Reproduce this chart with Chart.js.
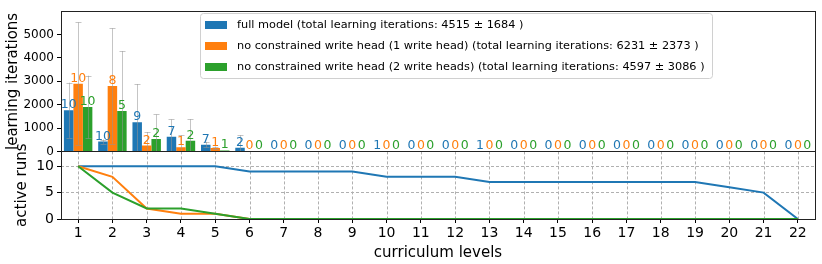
<!DOCTYPE html>
<html>
<head>
<meta charset="utf-8">
<script src="https://cdn.jsdelivr.net/npm/chart.js@4.4.0/dist/chart.umd.min.js"></script>
<style>
  html, body { margin: 0; padding: 0; background: #fff; }
</style>
</head>
<body>
<canvas id="chart" width="822" height="264"></canvas>
<script>
// curriculum levels (shared x axis)
const levels = ['1','2','3','4','5','6','7','8','9','10','11','12','13','14','15','16','17','18','19','20','21','22'];

// legend names
const seriesNames = [
    'full model (total learning iterations: 4515 \u00b1 1684 )',
    'no constrained write head (1 write head) (total learning iterations: 6231 \u00b1 2373 )',
    'no constrained write head (2 write heads) (total learning iterations: 4597 \u00b1 3086 )'
];

// mean learning iterations per level
const fullMean   = [1760, 420, 1250, 630, 290, 160, 0, 0, 0, 10, 0, 0, 10, 0, 0, 0, 0, 0, 0, 0, 0, 0];
const oneHeadMean = [2900, 2800, 250, 180, 150, 0, 0, 0, 0, 0, 0, 0, 0, 0, 0, 0, 0, 0, 0, 0, 0, 0];
const twoHeadMean = [1900, 1730, 535, 460, 40, 0, 0, 0, 0, 0, 0, 0, 0, 0, 0, 0, 0, 0, 0, 0, 0, 0];

// std of learning iterations per level
const fullStd    = [1180, 90, 1630, 740, 120, 530, 0, 0, 0, 0, 0, 0, 0, 0, 0, 0, 0, 0, 0, 0, 0, 0];
const oneHeadStd = [2620, 2470, 580, 510, 60, 0, 0, 0, 0, 0, 0, 0, 0, 0, 0, 0, 0, 0, 0, 0, 0, 0];
const twoHeadStd = [1340, 2560, 1045, 920, 0, 0, 0, 0, 0, 0, 0, 0, 0, 0, 0, 0, 0, 0, 0, 0, 0, 0];

// number of runs written above each bar
const fullCount    = [10, 10, 9, 7, 7, 2, 0, 0, 0, 1, 0, 0, 1, 0, 0, 0, 0, 0, 0, 0, 0, 0];
const oneHeadCount = [10, 8, 2, 1, 1, 0, 0, 0, 0, 0, 0, 0, 0, 0, 0, 0, 0, 0, 0, 0, 0, 0];
const twoHeadCount = [10, 5, 2, 2, 1, 0, 0, 0, 0, 0, 0, 0, 0, 0, 0, 0, 0, 0, 0, 0, 0, 0];

// active runs per level (bottom panel)
const fullActive    = [10, 10, 10, 10, 10, 9, 9, 9, 9, 8, 8, 8, 7, 7, 7, 7, 7, 7, 7, 6, 5, 0];
const oneHeadActive = [10, 8, 2, 1, 1, 0, 0, 0, 0, 0, 0, 0, 0, 0, 0, 0, 0, 0, 0, 0, 0, 0];
const twoHeadActive = [10, 5, 2, 2, 1, 0, 0, 0, 0, 0, 0, 0, 0, 0, 0, 0, 0, 0, 0, 0, 0, 0];

// tick values
const iterTicks = [0, 1000, 2000, 3000, 4000, 5000];
const runTicks = [0, 5, 10];

const colors = ['#1f77b4', '#ff7f0e', '#2ca02c'];
const stds = [fullStd, oneHeadStd, twoHeadStd];
const counts = [fullCount, oneHeadCount, twoHeadCount];
const FONT = 'DejaVu Sans';

// error bars, run counts, grid of the lower panel, frames and legend
const extras = {
    id: 'extras',
    beforeDatasetsDraw(chart) {
        const ctx = chart.ctx;
        const x = chart.scales.x;
        const yr = chart.scales.yRuns;
        ctx.save();
        ctx.strokeStyle = '#b0b0b0';
        ctx.lineWidth = 1;
        ctx.setLineDash([3, 2]);
        levels.forEach((l, i) => {
            const px = Math.round(x.getPixelForValue(i)) + 0.5;
            ctx.beginPath();
            ctx.moveTo(px, yr.top);
            ctx.lineTo(px, yr.bottom);
            ctx.stroke();
        });
        ctx.restore();
    },
    afterDatasetsDraw(chart) {
        const ctx = chart.ctx;
        const yi = chart.scales.yIter;
        const area = chart.chartArea;
        ctx.save();
        ctx.beginPath();
        ctx.rect(area.left, yi.top, area.right - area.left, yi.bottom - yi.top);
        ctx.clip();
        // error bars
        ctx.strokeStyle = 'rgba(150,150,150,0.55)';
        ctx.lineWidth = 1;
        for (let d = 0; d < 3; d++) {
            const meta = chart.getDatasetMeta(d);
            meta.data.forEach((bar, i) => {
                const s = stds[d][i];
                if (!s) return;
                const v = chart.data.datasets[d].data[i];
                const hi = yi.getPixelForValue(v + s);
                const lo = yi.getPixelForValue(v - s);
                const px = Math.round(bar.x) + 0.5;
                ctx.beginPath();
                ctx.moveTo(px, hi);
                ctx.lineTo(px, lo);
                ctx.moveTo(px - 3, Math.round(hi) + 0.5);
                ctx.lineTo(px + 3, Math.round(hi) + 0.5);
                ctx.moveTo(px - 3, Math.round(lo) + 0.5);
                ctx.lineTo(px + 3, Math.round(lo) + 0.5);
                ctx.stroke();
            });
        }
        ctx.restore();
        // run counts
        ctx.save();
        ctx.font = '12.5px "' + FONT + '"';
        ctx.textAlign = 'center';
        ctx.textBaseline = 'alphabetic';
        for (let d = 0; d < 3; d++) {
            const meta = chart.getDatasetMeta(d);
            ctx.fillStyle = colors[d];
            meta.data.forEach((bar, i) => {
                ctx.fillText(String(counts[d][i]), bar.x, bar.y - 2);
            });
        }
        ctx.restore();
    },
    afterDraw(chart) {
        const ctx = chart.ctx;
        const area = chart.chartArea;
        const yi = chart.scales.yIter;
        const yr = chart.scales.yRuns;
        ctx.save();
        ctx.strokeStyle = '#222';
        ctx.lineWidth = 1;
        ctx.strokeRect(Math.round(area.left) + 0.5, Math.round(yi.top) + 0.5,
            Math.round(area.right - area.left), Math.round(yi.bottom - yi.top));
        ctx.strokeRect(Math.round(area.left) + 0.5, Math.round(yr.top) + 0.5,
            Math.round(area.right - area.left), Math.round(yr.bottom - yr.top));
        // legend
        const lx = 200, ly = 13, lw = 512, lh = 65;
        ctx.fillStyle = 'rgba(255,255,255,0.85)';
        ctx.strokeStyle = '#d0d0d0';
        ctx.beginPath();
        ctx.roundRect(lx + 0.5, ly + 0.5, lw, lh, 3);
        ctx.fill();
        ctx.stroke();
        ctx.font = '11.3px "' + FONT + '"';
        ctx.textBaseline = 'middle';
        ctx.textAlign = 'left';
        seriesNames.forEach((name, k) => {
            const cy = ly + 12 + k * 21;
            ctx.fillStyle = colors[k];
            ctx.fillRect(lx + 5, cy - 4, 22, 8);
            ctx.fillStyle = '#000';
            ctx.fillText(name, lx + 37, cy);
        });
        ctx.restore();
    }
};

const barSet = (k, data) => ({
    type: 'bar',
    label: seriesNames[k],
    data: data,
    backgroundColor: colors[k],
    yAxisID: 'yIter',
    categoryPercentage: 0.83,
    barPercentage: 1.0,
    order: 1
});
const lineSet = (k, data) => ({
    type: 'line',
    label: seriesNames[k],
    data: data,
    borderColor: colors[k],
    backgroundColor: colors[k],
    borderWidth: 2,
    pointRadius: 0,
    tension: 0,
    yAxisID: 'yRuns',
    order: -k   // later series drawn on top, like matplotlib
});

new Chart(document.getElementById('chart'), {
    type: 'bar',
    data: {
        labels: levels,
        datasets: [
            barSet(0, fullMean), barSet(1, oneHeadMean), barSet(2, twoHeadMean),
            lineSet(0, fullActive), lineSet(1, oneHeadActive), lineSet(2, twoHeadActive)
        ]
    },
    options: {
        responsive: false,
        animation: false,
        layout: { padding: { top: 6, right: 7, left: 0, bottom: 0 } },
        plugins: { legend: { display: false }, tooltip: { enabled: false } },
        scales: {
            x: {
                offset: true,
                grid: { offset: false, drawOnChartArea: false, tickLength: 4, tickColor: '#000' },
                border: { display: false },
                ticks: { color: '#000', font: { family: FONT, size: 14 }, padding: 2, maxRotation: 0, autoSkip: false },
                title: { display: true, text: 'curriculum levels', color: '#000', font: { family: FONT, size: 15 }, padding: { top: 0, bottom: 2 } },
                afterFit: s => { s.height = 45; }
            },
            yRuns: {
                position: 'left',
                stack: 'panels',
                stackWeight: 69,
                min: 0,
                max: 12.8,
                afterBuildTicks: s => { s.ticks = runTicks.map(v => ({ value: v })); },
                ticks: { color: '#000', font: { family: FONT, size: 14 }, padding: 3, callback: v => String(v) },
                grid: { color: '#b0b0b0', tickColor: '#000', tickLength: 4 },
                border: { display: false, dash: [3, 2] },
                title: { display: true, text: 'active runs', color: '#000', font: { family: FONT, size: 15 }, padding: { top: 13, bottom: 0 } },
                afterFit: s => { s.width = 61; }
            },
            yIter: {
                position: 'left',
                stack: 'panels',
                stackWeight: 143,
                min: 0,
                max: 5990,
                afterBuildTicks: s => { s.ticks = iterTicks.map(v => ({ value: v })); },
                ticks: { color: '#000', font: { family: FONT, size: 12 }, padding: 3, callback: v => String(v) },
                grid: { drawOnChartArea: false, tickColor: '#000', tickLength: 4 },
                border: { display: false },
                title: { display: true, text: 'learning iterations', color: '#000', font: { family: FONT, size: 15 }, padding: { top: 4, bottom: 0 } },
                afterFit: s => { s.width = 61; }
            }
        }
    },
    plugins: [extras]
});
</script>
</body>
</html>
